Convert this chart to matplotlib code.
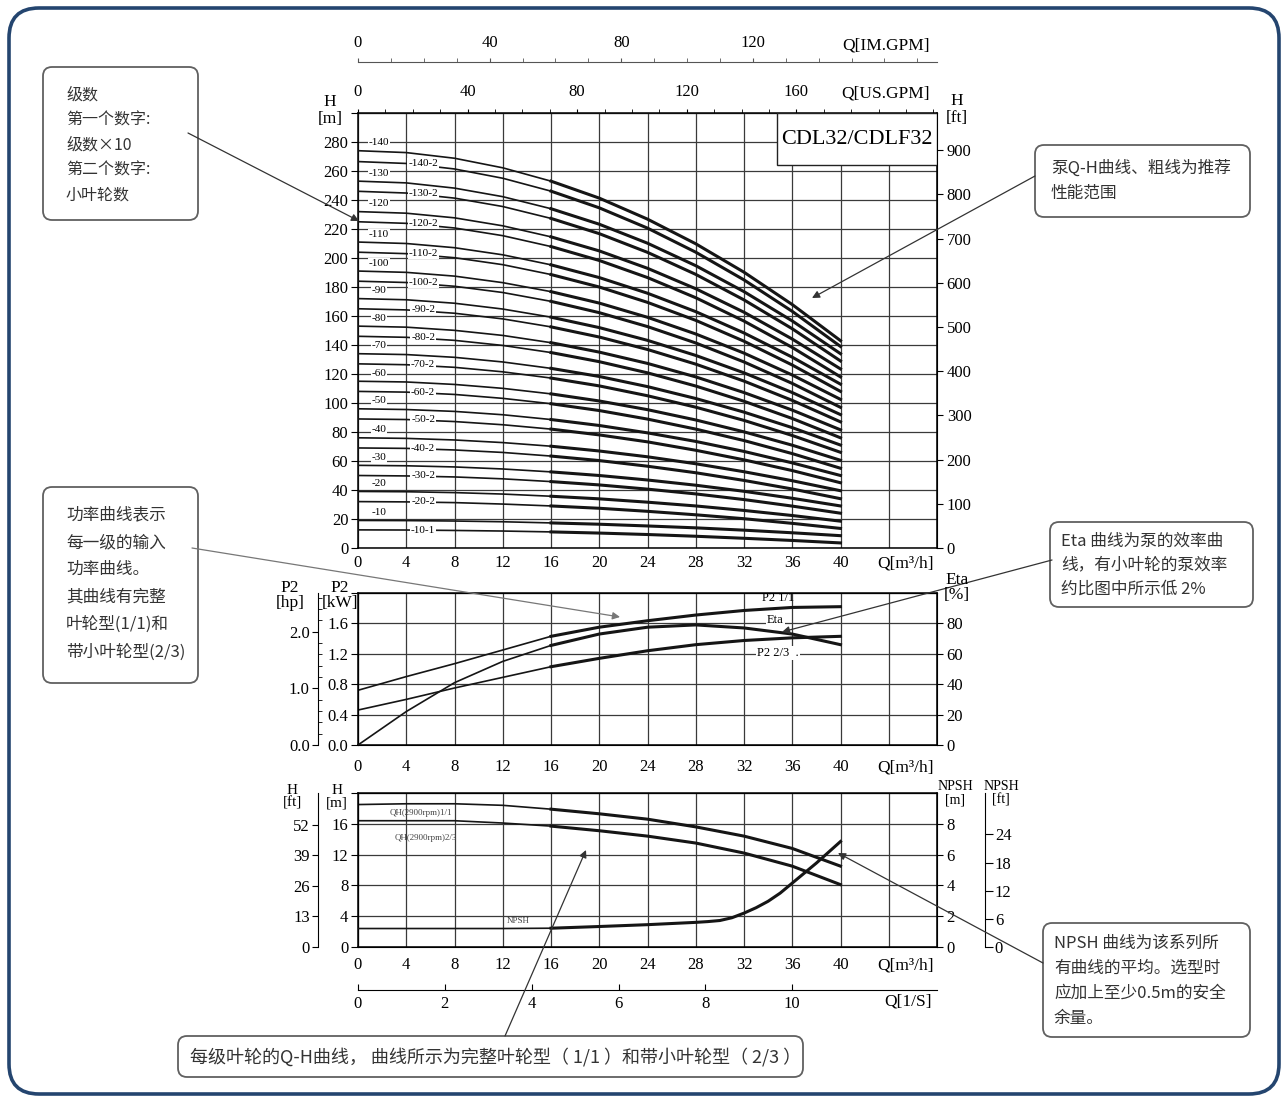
import matplotlib
matplotlib.use("Agg")
import matplotlib.pyplot as plt
from matplotlib.patches import FancyBboxPatch, FancyArrowPatch, Rectangle
from matplotlib.transforms import IdentityTransform
from matplotlib.ticker import MultipleLocator

# flow points (m3/h) of the read curves
q = [0, 4, 8, 12, 16, 20, 24, 28, 32, 36, 40]

# stage Q-H curves, head in m
h_10_1 = [12.5, 12.4, 12.1, 11.7, 11.1, 10.3, 9.3, 8.1, 6.7, 5.2, 3.5]
h_10 = [19, 18.9, 18.6, 18.1, 17.3, 16.4, 15.2, 13.9, 12.3, 10.5, 8.5]
h_20_2 = [32, 31.8, 31.3, 30.3, 29.0, 27.4, 25.3, 22.9, 20.2, 17.0, 13.5]
h_20 = [39, 38.8, 38.2, 37.2, 35.7, 33.9, 31.6, 29.0, 25.9, 22.4, 18.5]
h_30_2 = [50, 49.7, 49.0, 47.7, 45.8, 43.5, 40.6, 37.3, 33.4, 28.9, 24]
h_30 = [57, 56.7, 55.9, 54.5, 52.5, 50, 46.9, 43.3, 39.1, 34.3, 29]
h_40_2 = [69, 68.7, 67.6, 65.9, 63.4, 60.3, 56.4, 51.9, 46.6, 40.7, 34]
h_40 = [76, 75.6, 74.5, 72.7, 70.2, 66.9, 62.9, 58.1, 52.6, 46.4, 39.5]
h_50_2 = [89, 88.6, 87.2, 85.0, 82.0, 78, 73.2, 67.4, 60.8, 53.4, 45]
h_50 = [96, 95.5, 94.2, 91.9, 88.6, 84.5, 79.4, 73.5, 66.6, 58.7, 50]
h_60_2 = [108, 107.5, 105.9, 103.2, 99.5, 94.8, 88.9, 82.0, 74.1, 65.1, 55]
h_60 = [115, 114.5, 112.8, 110.1, 106.3, 101.4, 95.4, 88.3, 80.1, 70.9, 60.5]
h_70_2 = [127, 126.4, 124.6, 121.5, 117.2, 111.8, 105.0, 97.1, 88.0, 77.6, 66]
h_70 = [134, 133.4, 131.5, 128.3, 123.9, 118.3, 111.3, 103.1, 93.7, 83.0, 71]
h_80_2 = [146, 145.3, 143.2, 139.7, 134.8, 128.5, 120.8, 111.7, 101.2, 89.3, 76]
h_80 = [153, 152.3, 150.1, 146.6, 141.6, 135.1, 127.3, 118.0, 107.2, 95.1, 81.5]
h_90_2 = [165, 164.2, 161.9, 158.0, 152.5, 145.5, 136.9, 126.8, 115.1, 101.8, 87]
h_90 = [172, 171.2, 168.8, 164.8, 159.2, 152, 143.2, 132.8, 120.8, 107.2, 92]
h_100_2 = [184, 183.1, 180.5, 176.2, 170.1, 162.3, 152.7, 141.4, 128.3, 113.5, 97]
h_100 = [191, 190.1, 187.5, 183.0, 176.8, 168.9, 159.1, 147.6, 134.4, 119.3, 102.5]
h_110_2 = [204, 203.0, 200.2, 195.4, 188.6, 180, 169.4, 157.0, 142.6, 126.2, 108]
h_110 = [211, 210.0, 207.1, 202.2, 195.3, 186.5, 175.7, 163.0, 148.3, 131.6, 113]
h_120_2 = [225, 223.9, 220.7, 215.4, 207.9, 198.3, 186.5, 172.6, 156.5, 138.3, 118]
h_120 = [232, 230.9, 227.7, 222.2, 214.6, 204.9, 192.9, 178.8, 162.6, 144.1, 123.5]
h_130_2 = [246, 244.8, 241.3, 235.5, 227.3, 216.8, 203.9, 188.7, 171.1, 151.2, 129]
h_130 = [253, 251.8, 248.2, 242.3, 234.0, 223.3, 210.2, 194.7, 176.8, 156.6, 134]
h_140_2 = [266.5, 265.2, 261.4, 255.0, 246.1, 234.6, 220.6, 204.0, 184.9, 163.2, 139]
h_140 = [274, 272.7, 268.8, 262.2, 253.0, 241.3, 226.8, 209.8, 190.2, 167.9, 143]

stage_names = ['-10-1', '-10', '-20-2', '-20', '-30-2', '-30', '-40-2', '-40',
               '-50-2', '-50', '-60-2', '-60', '-70-2', '-70', '-80-2', '-80',
               '-90-2', '-90', '-100-2', '-100', '-110-2', '-110', '-120-2', '-120',
               '-130-2', '-130', '-140-2', '-140']
stage_heads = [h_10_1, h_10, h_20_2, h_20, h_30_2, h_30, h_40_2, h_40,
               h_50_2, h_50, h_60_2, h_60, h_70_2, h_70, h_80_2, h_80,
               h_90_2, h_90, h_100_2, h_100, h_110_2, h_110, h_120_2, h_120,
               h_130_2, h_130, h_140_2, h_140]

# power (kW) and efficiency (%)
p2_full = [0.72, 0.90, 1.07, 1.25, 1.43, 1.55, 1.635, 1.71, 1.77, 1.81, 1.82]
p2_small = [0.46, 0.60, 0.75, 0.89, 1.03, 1.14, 1.24, 1.32, 1.375, 1.41, 1.43]
eta = [0, 22, 41, 55, 65.5, 73, 77.5, 79, 77, 73, 66]

# single stage Q-H (m) and NPSH (m)
qh_full = [18.5, 18.6, 18.6, 18.4, 17.9, 17.3, 16.6, 15.6, 14.4, 12.8, 10.5]
qh_small = [16.4, 16.4, 16.4, 16.1, 15.7, 15.1, 14.4, 13.5, 12.2, 10.5, 8.1]
q_npsh = [0, 4, 8, 12, 16, 20, 24, 28, 29, 30, 31, 32, 33, 34, 35, 36, 37, 38, 39, 40]
npsh = [1.2, 1.2, 1.2, 1.2, 1.22, 1.33, 1.45, 1.6, 1.65, 1.72, 1.9, 2.2, 2.55, 2.97,
        3.5, 4.15, 4.8, 5.45, 6.15, 6.85]

plt.rcParams['font.family'] = ['Liberation Serif', 'Noto Sans CJK SC']
CJK = ['Noto Sans CJK SC', 'DejaVu Sans']

W, H = 1287, 1101
fig = plt.figure(figsize=(W / 100, H / 100), dpi=100)


def axes_px(left, top, right, bottom):
    return fig.add_axes([left / W, 1 - bottom / H, (right - left) / W, (bottom - top) / H])


def ftext(x, y, s, **kw):
    kw.setdefault('ha', 'center')
    kw.setdefault('va', 'center')
    fig.text(x / W, 1 - y / H, s, **kw)


def style(ax):
    ax.set_xlim(0, 48)
    ax.set_xticks(range(0, 49, 4))
    ax.set_xticklabels([str(v) if v <= 40 else '' for v in range(0, 49, 4)])
    ax.grid(True, color='#3a3a3a', lw=0.9)
    ax.set_axisbelow(True)
    for s in ax.spines.values():
        s.set_linewidth(1.1)


def curve(ax, x, y):
    n = x.index(16) + 1
    ax.plot(x[:n], y[:n], color='#151515', lw=1.2, zorder=3)
    ax.plot(x[n - 1:], y[n - 1:], color='#151515', lw=2.2, zorder=3,
            solid_joinstyle='round')


m2ft = (lambda v: v * 3.2808, lambda v: v / 3.2808)

# ---------- top: stage Q-H chart ----------
ax1 = axes_px(358, 113, 937, 548)
style(ax1)
ax1.set_ylim(0, 300)
ax1.set_yticks(range(0, 301, 20))
ax1.set_yticklabels([str(v) if v < 300 else '' for v in range(0, 301, 20)])
ax1.tick_params(axis='x', length=0, pad=5, labelsize=12)
ax1.tick_params(axis='y', direction='out', length=5, pad=2, labelsize=12)

for name, heads in zip(stage_names, stage_heads):
    curve(ax1, q, heads)
    box = dict(fc='white', ec='none', pad=0.6)
    if name.count('-') == 2:
        ax1.text(5.4, heads[1], name, fontsize=8, ha='center', va='center',
                 bbox=box, zorder=4)
    else:
        ax1.text(1.75, heads[0] + 5.5, name, fontsize=8, ha='center', va='center',
                 bbox=box, zorder=4)

ax1.add_patch(Rectangle((0.7237, 0.8805), 0.2763, 0.1195, transform=ax1.transAxes,
                        fc='white', ec='#222', lw=1, zorder=5))
ax1.text(0.862, 0.94, 'CDL32/CDLF32', transform=ax1.transAxes, fontsize=16,
         ha='center', va='center', zorder=6)

ax1_ft = ax1.secondary_yaxis('right', functions=m2ft)
ax1_ft.set_yticks(range(0, 901, 100))
ax1_ft.tick_params(direction='out', length=4, pad=3, labelsize=12)

ax1_us = ax1.secondary_xaxis('top', functions=(lambda v: v * 4.4029, lambda v: v / 4.4029))
ax1_us.set_xticks([0, 40, 80, 120, 160])
ax1_us.xaxis.set_minor_locator(MultipleLocator(10))
ax1_us.tick_params(which='both', direction='out', length=3, pad=6, labelsize=12)

ax1_im = ax1.secondary_xaxis(1.117, functions=(lambda v: v * 3.666, lambda v: v / 3.666))
ax1_im.set_xticks([0, 40, 80, 120])
ax1_im.xaxis.set_minor_locator(MultipleLocator(10))
ax1_im.tick_params(which='both', direction='out', length=3, pad=5, labelsize=12,
                   color='#555')
ax1_im.spines['top'].set_color('#555')

ftext(886, 45, 'Q[IM.GPM]', fontsize=12.5)
ftext(886, 94, 'Q[US.GPM]', fontsize=12.5)
ftext(330, 102, 'H', fontsize=12.5)
ftext(330, 119, '[m]', fontsize=12.5)
ftext(957, 101, 'H', fontsize=12.5)
ftext(957, 118, '[ft]', fontsize=12.5)
ftext(905, 563, 'Q[m³/h]', fontsize=12.5)

# ---------- middle: power / efficiency ----------
ax2 = axes_px(358, 593, 937, 745)
style(ax2)
ax2.set_ylim(0, 2.0)
ax2.set_yticks([0, 0.4, 0.8, 1.2, 1.6, 2.0])
ax2.set_yticklabels(['0.0', '0.4', '0.8', '1.2', '1.6', ''])
ax2.tick_params(axis='x', length=0, pad=10, labelsize=12)
ax2.tick_params(axis='y', direction='out', length=5, pad=2, labelsize=12)
curve(ax2, q, p2_full)
curve(ax2, q, p2_small)

ax2e = ax2.twinx()
ax2e.set_ylim(0, 100)
ax2e.set_yticks([0, 20, 40, 60, 80])
ax2e.tick_params(direction='out', length=4, pad=3, labelsize=12)
curve(ax2e, q, eta)

ax2.text(34.8, 1.93, 'P2 1/1', fontsize=9, ha='center', va='center', zorder=5)
ax2.text(34.6, 1.64, 'Eta', fontsize=9, ha='center', va='center', zorder=5,
         bbox=dict(fc='white', ec='none', pad=1))
ax2.text(34.8, 1.21, 'P2 2/3  .', fontsize=9, ha='center', va='center', zorder=5,
         bbox=dict(fc='white', ec='none', pad=1))

ax2_hp = ax2.secondary_yaxis(-0.069, functions=(lambda v: v * 1.341, lambda v: v / 1.341))
ax2_hp.set_yticks([0, 1, 2])
ax2_hp.set_yticklabels(['0.0', '1.0', '2.0'])
ax2_hp.yaxis.set_minor_locator(MultipleLocator(0.2))
ax2_hp.tick_params(direction='out', length=4, pad=2, labelsize=12)
ax2_hp.tick_params(which='minor', direction='in', length=3)

ftext(290, 588, 'P2', fontsize=12.5)
ftext(290, 603, '[hp]', fontsize=12.5)
ftext(340, 588, 'P2', fontsize=12.5)
ftext(340, 603, '[kW]', fontsize=12.5)
ftext(957, 580, 'Eta', fontsize=12.5)
ftext(957, 595, '[%]', fontsize=12.5)
ftext(905, 767, 'Q[m³/h]', fontsize=12.5)

# ---------- bottom: single stage Q-H and NPSH ----------
ax3 = axes_px(358, 793, 937, 947)
style(ax3)
ax3.set_ylim(0, 20)
ax3.set_yticks(range(0, 21, 4))
ax3.set_yticklabels([str(v) if v < 20 else '' for v in range(0, 21, 4)])
ax3.tick_params(axis='x', length=0, pad=7, labelsize=12)
ax3.tick_params(axis='y', direction='out', length=5, pad=2, labelsize=12)
curve(ax3, q, qh_full)
curve(ax3, q, qh_small)

ax3n = ax3.twinx()
ax3n.set_ylim(0, 10)
ax3n.set_yticks([0, 2, 4, 6, 8])
ax3n.tick_params(direction='out', length=4, pad=3, labelsize=12)
curve(ax3n, q_npsh, npsh)

ax3.text(5.2, 17.4, 'QH(2900rpm)1/1', fontsize=6.5, color='#444', ha='center', va='center')
ax3.text(5.6, 14.2, 'QH(2900rpm)2/3', fontsize=6.5, color='#444', ha='center', va='center')
ax3.text(13.3, 3.4, 'NPSH', fontsize=6.5, color='#444', ha='center', va='center')

ax3_ft = ax3.secondary_yaxis(-0.069, functions=m2ft)
ax3_ft.set_yticks([0, 13, 26, 39, 52])
ax3_ft.tick_params(direction='out', length=4, pad=2, labelsize=12)

ax3n_ft = ax3n.secondary_yaxis(1.083, functions=m2ft)
ax3n_ft.set_yticks([0, 6, 12, 18, 24])
ax3n_ft.tick_params(direction='out', length=6, pad=1, labelsize=12)

ax3_ls = ax3.secondary_xaxis(-0.279, functions=(lambda v: v / 3.6, lambda v: v * 3.6))
ax3_ls.set_xticks([0, 2, 4, 6, 8, 10])
ax3_ls.tick_params(direction='in', length=4, pad=4, labelsize=12)

ftext(292, 790, 'H', fontsize=11)
ftext(292, 803, '[ft]', fontsize=11)
ftext(337, 790, 'H', fontsize=11)
ftext(337, 803, '[m]', fontsize=11)
ftext(955, 786, 'NPSH', fontsize=10)
ftext(955, 800, '[m]', fontsize=10)
ftext(1001, 786, 'NPSH', fontsize=10)
ftext(1001, 800, '[ft]', fontsize=10)
ftext(905, 965, 'Q[m³/h]', fontsize=12.5)
ftext(908, 1001, 'Q[1/S]', fontsize=12.5)

# ---------- notes, arrows and frame (pixel positions) ----------
ident = IdentityTransform()


def note(x0, y0, x1, y1, lines, tx, ty, step, size):
    fig.add_artist(FancyBboxPatch((x0, H - y1), x1 - x0, y1 - y0,
                                  boxstyle='round,pad=0,rounding_size=9',
                                  transform=ident, fc='white', ec='#606060', lw=1.3))
    for i, line in enumerate(lines):
        ftext(tx, ty + i * step, line, fontsize=size, family=CJK, color='#333',
              ha='left')


def arrow(x0, y0, x1, y1, color='#333'):
    fig.add_artist(FancyArrowPatch((x0, H - y0), (x1, H - y1), transform=ident,
                                   arrowstyle='-|>', mutation_scale=11, lw=0.9,
                                   color=color, shrinkA=0, shrinkB=0))


fig.add_artist(FancyBboxPatch((9, 7), 1270, 1086, boxstyle='round,pad=0,rounding_size=30',
                              transform=ident, fc='none', ec='#24456f', lw=2.6))

note(43, 67, 198, 220, ['级数', '第一个数字:', '级数×10', '第二个数字:', '小叶轮数'],
     66, 95, 25, 11.5)
arrow(188, 133, 359, 221)

note(1035, 145, 1250, 217, ['泵Q-H曲线、粗线为推荐', '性能范围'], 1051, 168, 25, 12)
arrow(1035, 176, 812, 298)

note(43, 487, 198, 683, ['功率曲线表示', '每一级的输入', '功率曲线。', '其曲线有完整',
                         '叶轮型(1/1)和', '带小叶轮型(2/3)'], 66, 515, 27.4, 12)
arrow(192, 548, 620, 617, color='#777')

note(1050, 522, 1253, 607, ['Eta 曲线为泵的效率曲', '线，有小叶轮的泵效率',
                            '约比图中所示低 2%'], 1061, 541, 24, 12)
arrow(1052, 560, 782, 632)

note(1043, 923, 1250, 1037, ['NPSH 曲线为该系列所', '有曲线的平均。选型时',
                             '应加上至少0.5m的安全', '余量。'], 1054, 943, 25, 12)
arrow(1043, 963, 838, 853)

note(178, 1036, 803, 1077, ['每级叶轮的Q-H曲线， 曲线所示为完整叶轮型（ 1/1 ）和带小叶轮型（ 2/3 ）'],
     190, 1057, 0, 13)
arrow(505, 1036, 586, 850)

fig.savefig('out.png', dpi=100)
